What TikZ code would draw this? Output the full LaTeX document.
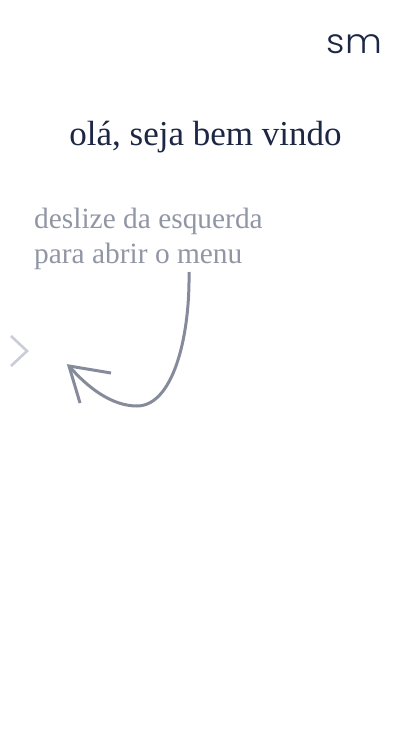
\documentclass[tikz,border=0pt]{standalone}
\usepackage{fontspec}
\usepackage{xcolor}
\usetikzlibrary{positioning}
\setmainfont{Liberation Serif}
\newfontfamily\logofont{Poppins Light}
\definecolor{inkblue}{HTML}{1B2745}
\definecolor{hintgray}{HTML}{9196A5}
\definecolor{curvegray}{HTML}{858B9B}
\definecolor{chevrongray}{HTML}{CBCDD6}
\tikzset{
  titlelabel/.style={
    font=\fontsize{35}{35}\selectfont, text=inkblue, inner sep=0pt, anchor=base
  },
  hintlabel/.style={
    font=\fontsize{29.4}{35}\selectfont, text=hintgray, inner sep=0pt, anchor=base west
  },
  logolabel/.style={
    font=\logofont\fontsize{34}{34}\selectfont, text=inkblue, inner sep=0pt,
    anchor=base, xscale=1.06, transform shape
  },
  swipearrow/.style={line width=3pt, color=curvegray},
  chevronline/.style={line width=2.6pt, color=chevrongray},
}
\begin{document}
\begin{tikzpicture}[x=1pt, y=-1pt]
  \useasboundingbox (0,0) rectangle (411,731);

  % Labels
  \node[logolabel] (logo) at (354.5,53) {sm};
  \node[titlelabel] (title) at (205.5,145) {olá, seja bem vindo};
  \node[hintlabel] (hintone) at (34,228) {deslize da esquerda};
  \node[hintlabel] (hinttwo) at (34,263) {para abrir o menu};

  % Chevron
  \coordinate (chevtop) at (11,336);
  \coordinate (chevtip) at (27,351);
  \coordinate (chevbot) at (11,366);
  \draw[chevronline] (chevtop) -- (chevtip) -- (chevbot);

  % Swipe arrow
  \coordinate (curvestart) at (189,272);
  \coordinate (curvelow) at (137,406);
  \coordinate (arrowtip) at (69,366);
  \coordinate (barbright) at (111,373);
  \coordinate (barbleft) at (80,403);
  \draw[swipearrow] (curvestart) .. controls (190,340) and (172,406) .. (curvelow)
    .. controls (112,406) and (88,388) .. (arrowtip);
  \draw[swipearrow] (barbright) -- (arrowtip) -- (barbleft);
\end{tikzpicture}
\end{document}
